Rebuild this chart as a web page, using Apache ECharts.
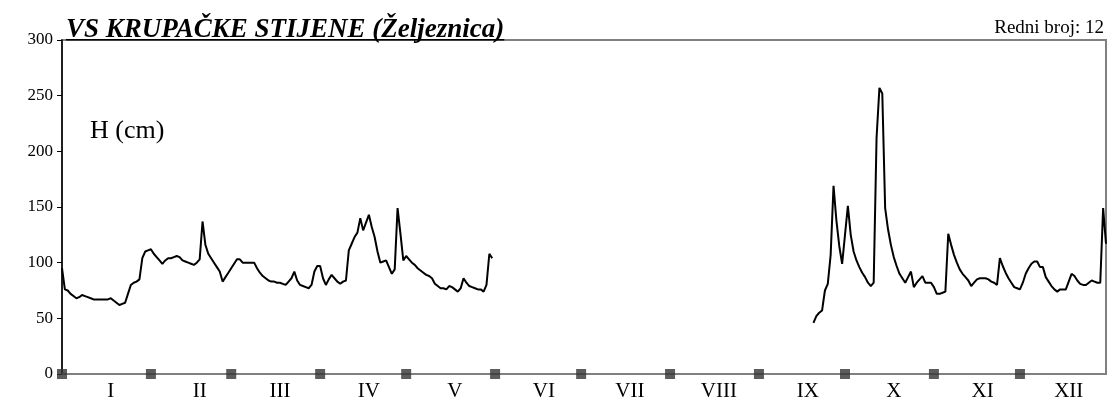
<!DOCTYPE html>
<html>
<head>
<meta charset="utf-8">
<script src="https://cdn.jsdelivr.net/npm/echarts@6/dist/echarts.min.js"></script>
<style>
  html, body { margin: 0; padding: 0; background: #fff; }
  #chart { width: 1110px; height: 403px; }
</style>
</head>
<body>
<div id="chart"></div>
<script>
// water level H (cm), daily, day index 0 = 1 Jan
const springStart = 0
const springLevels = [
  95, 76, 75, 72, 70, 68, 69, 71, 70, 69, 68, 67, 67, 67, 67, 67, 67, 68, 66, 64,
  62, 63, 64, 72, 80, 82, 83, 85, 104, 110, 111, 112, 108, 105, 102, 99, 102, 104, 104, 105,
  106, 105, 102, 101, 100, 99, 98, 100, 103, 137, 116, 108, 104, 100, 96, 92, 83, 87, 91, 95,
  99, 103, 103, 100, 100, 100, 100, 100, 95, 91, 88, 86, 84, 83, 83, 82, 82, 81, 80, 83,
  86, 92, 84, 80, 79, 78, 77, 80, 92, 97, 97, 86, 80, 85, 89, 86, 83, 81, 83, 84,
  111, 117, 123, 127, 140, 129, 136, 143, 132, 123, 110, 100, 101, 102, 96, 90, 94, 149, 126, 102,
  106, 103, 100, 98, 95, 93, 91, 89, 88, 86, 81, 79, 77, 77, 76, 79, 78, 76, 74, 77,
  86, 82, 79, 78, 77, 76, 76, 74, 80, 108, 104
]
const autumnStart = 262
const autumnLevels = [
  46, 52, 55, 57, 75, 81, 107, 169, 138, 115, 99, 125, 151, 125, 110, 102, 96, 91, 87, 82,
  79, 82, 212, 257, 252, 149, 130, 116, 105, 97, 90, 86, 82, 87, 92, 78, 82, 85, 88, 82,
  82, 82, 78, 72, 72, 73, 74, 126, 116, 107, 100, 94, 90, 87, 84, 79, 82, 85, 86, 86,
  86, 85, 83, 82, 80, 104, 97, 91, 86, 82, 78, 77, 76, 82, 90, 95, 99, 101, 101, 96,
  96, 87, 83, 79, 76, 74, 76, 76, 76, 83, 90, 88, 84, 81, 80, 80, 82, 84, 83, 82,
  82, 149, 117
]
const monthStarts = [0, 31, 59, 90, 120, 151, 181, 212, 243, 273, 304, 334]
const monthLabels = ['I', 'II', 'III', 'IV', 'V', 'VI', 'VII', 'VIII', 'IX', 'X', 'XI', 'XII']
const yTicks = [0, 50, 100, 150, 200, 250, 300]

const titleText = 'VS KRUPAČKE STIJENE (Željeznica)'
const serif = '"Liberation Serif", "Times New Roman", serif'
const labelOffset = 17

function toPoints(start, values) {
  return values.map((v, i) => [start + i, v])
}

// width of the title, for the underline
const ctx = document.createElement('canvas').getContext('2d')
ctx.font = 'italic bold 27px ' + serif
const titleWidth = ctx.measureText(titleText).width

const chart = echarts.init(document.getElementById('chart'))
const option = {
  animation: false,
  backgroundColor: '#fff',
  grid: {
    left: 62, right: 4, top: 40, bottom: 29,
    show: true, borderColor: '#808080', borderWidth: 2
  },
  xAxis: {
    type: 'value',
    min: 0,
    max: 364,
    splitLine: { show: false },
    axisLine: { show: true, onZero: false, lineStyle: { color: '#808080', width: 2 } },
    axisTick: { show: false },
    axisLabel: {
      customValues: monthStarts.map(d => d + labelOffset),
      formatter: v => monthLabels[monthStarts.indexOf(v - labelOffset)] || '',
      color: '#000',
      fontFamily: serif,
      fontSize: 21,
      margin: 7
    }
  },
  yAxis: {
    type: 'value',
    min: yTicks[0],
    max: yTicks[yTicks.length - 1],
    interval: 50,
    splitLine: { show: false },
    axisLine: { show: true, lineStyle: { color: '#000', width: 1.5 } },
    axisTick: { show: true, length: 5, lineStyle: { color: '#000', width: 1 } },
    axisLabel: { color: '#000', fontFamily: serif, fontSize: 17, margin: 9 }
  },
  graphic: [
    {
      type: 'text', left: 66, top: 17, z: 10,
      style: { text: titleText, font: 'italic bold 27px ' + serif, fill: '#000' }
    },
    {
      type: 'rect', z: 11,
      shape: { x: 66, y: 39, width: titleWidth, height: 1.5 },
      style: { fill: '#000' }
    },
    {
      type: 'text', right: 6, top: 19,
      style: { text: 'Redni broj: 12', font: '19px ' + serif, fill: '#000' }
    },
    {
      type: 'text', left: 90, top: 118,
      style: { text: 'H (cm)', font: '26px ' + serif, fill: '#000' }
    }
  ],
  series: [
    {
      type: 'line',
      data: toPoints(springStart, springLevels),
      showSymbol: false,
      lineStyle: { color: '#000', width: 2 }
    },
    {
      type: 'line',
      data: toPoints(autumnStart, autumnLevels),
      showSymbol: false,
      lineStyle: { color: '#000', width: 2 }
    },
    {
      type: 'scatter',
      data: monthStarts.map(d => [d, 0]),
      symbol: 'rect',
      symbolSize: 10,
      clip: false,
      z: 5,
      itemStyle: { color: '#333' }
    }
  ]
}
chart.setOption(option)
</script>
</body>
</html>
